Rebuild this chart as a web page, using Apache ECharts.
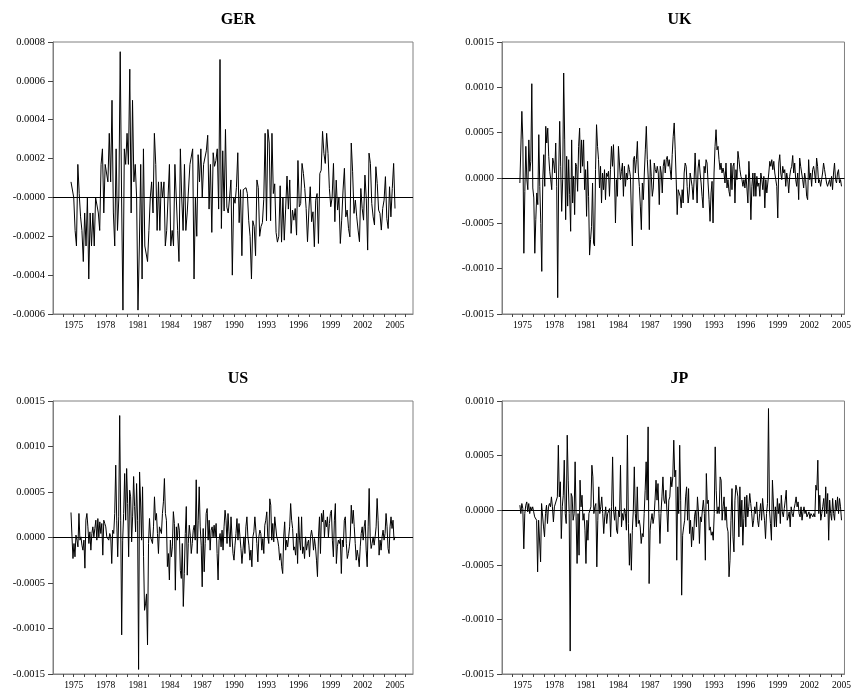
<!DOCTYPE html>
<html>
<head>
<meta charset="utf-8">
<script src="https://cdn.jsdelivr.net/npm/echarts@6/dist/echarts.min.js"></script>
<style>html,body{margin:0;padding:0;background:#fff}#c{width:854px;height:697px}</style>
</head>
<body>
<div id="c"></div>
<script>
// values are in units of 1e-4
const SCALE = 1e-4;
const startYear = 1974.75;
const endYear = 2005.0;
const xLabelYears = [1975, 1978, 1981, 1984, 1987, 1990, 1993, 1996, 1999, 2002, 2005];
const xTickYears = [1974,1975,1976,1977,1978,1979,1980,1981,1982,1983,1984,1985,1986,1987,1988,1989,1990,1991,1992,1993,1994,1995,1996,1997,1998,1999,2000,2001,2002,2003,2004,2005,2006];
const titles = ['GER', 'UK', 'US', 'JP'];

const ger = [0.8,0.8,0,-1.7,-2.5,1.7,0.2,-1.0,-1.7,-3.3,-0.8,-2.5,0,-4.2,-0.8,-2.5,-0.8,-2.5,0,0,-0.8,-1.7,1.7,2.5,-0.8,1.7,1.7,0.8,3.3,0.8,5.0,-0.8,-2.5,2.5,-1.7,0,7.5,0,-5.8,2.5,1.7,3.3,1.7,6.6,-0.8,5.0,0.8,1.7,0,-5.8,-2.5,1.7,-4.2,2.5,-2.5,-2.5,-3.3,-1.7,0,0.8,-0.8,3.3,1.7,-1.7,0.8,-1.7,0.8,0,0.8,-2.5,-1.7,0,1.7,-2.5,-1.7,-2.5,1.7,
 0,-1.7,-3.3,2.5,0,-1.7,1.7,-1.7,-0.8,-0.8,1.7,1.7,2.5,-4.2,0,-2.0,2.2,0.8,2.5,0,1.7,1.6,2.4,3.2,-0.6,1.7,-1.8,2.3,1.6,1.9,2.5,-0.6,7.1,-1.6,2.4,-0.7,3.5,-0.5,-0.8,0,0.9,-4.0,0,-0.3,0.5,2.3,-1.3,0.4,-3.0,0.4,0.5,0.5,0.2,-1.2,-2.0,-4.2,-1.2,-1.5,-3.0,0.9,0.5,-2.0,-1.5,-1.3,-0.1,3.3,-1.2,3.5,2.8,-1.2,3.3,0.2,0.7,-1.8,-2.3,-2.0,0.6,-2.3,0,-2.2,-0.6,1.1,-0.6,0.9,
 -1.85,-0.65,-1.17,-0.57,-1.94,1.9,-0.48,-0.31,1.75,1.23,0.46,-0.57,-2.28,-0.65,0.55,-1.25,-0.74,-2.54,-0.14,0.2,-2.37,1.23,1.4,3.4,2.26,1.75,3.3,2.26,0.46,-0.48,0,1.75,-1.25,0.89,-0.65,0,-2.37,-1.17,0.38,1.5,-1.0,-0.65,-1.6,-2.03,2.8,1.32,-0.82,-0.14,-1.0,-1.68,-2.28,0.46,-0.57,-1.17,1.15,-0.05,-2.71,2.28,1.75,-0.31,-1.0,-1.42,1.58,0.72,-0.65,-0.82,-1.68,-0.57,-0.14,1.07,-1.08,-1.6,0.55,-1.0,0.46,1.75,-0.57];

const uk = [-0.55,-0.75,7.35,4.2,-8.3,-1.47,3.49,-0.18,-1.29,4.2,0.74,1.84,10.4,-1.1,-2.2,-8.3,-4.6,-1.65,-2.94,4.78,-0.92,-5.0,-10.3,-0.18,2.57,-0.92,5.7,3.86,5.5,2.39,0.74,-0.18,-1.29,2.2,1.65,0.55,3.86,-0.92,-13.2,0.55,6.25,1.29,-3.68,-0.18,11.58,4.2,-4.6,2.39,-3.1,2.02,-1.84,-5.88,4.2,-2.76,0.18,-4.04,1.65,1.29,-1.47,3.49,5.5,0.55,4.2,1.29,4.2,-1.29,0.92,-4.23,1.84,-2.02,-8.5,-6.8,-5.33,-0.55,-7.17,-7.5,0.92,5.88,3.49,2.02,-1.1,1.29,-2.76,0.55,-1.29,0.92,-2.39,0.55,0.18,
 0.74,-2.02,0.92,3.49,1.29,3.68,0.55,-4.96,-0.18,-2.02,3.49,3.68,-0.18,0.74,1.65,-2.02,1.29,-0.92,0.55,-0.18,1.47,0.92,0.18,-3.86,-7.5,2.02,2.39,0.55,2.02,4.04,0.55,-0.92,-3.1,-5.7,-0.55,-2.39,0.55,3.1,5.7,2.02,-0.18,-5.7,2.02,0.18,-2.02,-1.1,1.65,0.92,0.55,1.29,0.55,-2.94,1.29,0.55,-1.65,1.29,2.02,0.55,2.02,2.39,1.29,2.02,0.92,-0.18,2.57,4.6,6.07,3.1,-0.18,-4.04,-1.29,-1.65,-2.02,-3.3,-1.29,-2.76,0.55,1.65,1.29,-0.92,-2.76,-1.65,0.55,0.74,-0.92,-2.39,-0.18,2.76,-0.18,-2.76,1.1,2.02,0.55,-0.55,-2.02,-3.3,1.29,0.55,2.02,1.65,-0.55,-2.39,-4.78,-1.65,-0.37,-4.96,0.55,3.49,5.33,3.1,3.49,2.02,0.92,1.65,0.55,
 1.1,0.55,-0.55,1.65,-1.1,-0.18,-1.47,-2.02,1.65,-1.29,1.29,1.65,-2.76,0.92,-0.18,2.94,2.02,0.92,0.18,-0.18,-0.92,-0.18,-1.1,0.37,-1.1,-2.76,1.84,-0.55,-4.6,-0.92,0.55,-2.02,0.55,-2.02,0.18,-0.92,-0.55,-2.02,0.55,-0.18,-1.29,0.18,-3.3,-0.18,-1.65,-0.55,0.55,1.84,1.29,2.02,0.92,1.84,0.55,-0.18,-0.92,-4.41,1.65,2.57,0.55,-0.18,1.29,0.55,0.92,-0.92,0.55,-0.18,-1.65,0.18,0.92,1.29,2.48,0.55,1.65,-0.18,-0.92,0.55,-2.39,2.2,1.29,0.55,-0.18,-1.1,0.55,-0.18,-2.02,-2.39,2.02,-0.18,0.55,-0.92,0.92,1.29,0.55,-0.55,2.2,1.29,-0.55,-0.18,-0.92,-0.18,0.55,1.65,0.92,0.18,-0.55,-0.92,-1.1,-0.18,-0.92,0.18,-1.29,0.55,1.65,-0.18,-0.55,0.55,0.92,-0.55,-0.18,-0.92];

const us = [2.75,0.07,-2.31,-0.66,-2.12,0.26,-0.29,-1.03,2.64,-0.29,0.07,-0.84,-1.39,-0.29,-3.37,1.91,2.64,1.17,-0.66,0.62,-1.39,0.44,1.17,0.07,0.99,1.9,-0.29,2.08,0.07,1.72,0.44,1.54,-1.94,1.9,1.54,1.17,0.07,0.26,-0.29,0.44,0.07,-2.86,0.81,0.44,2.64,7.95,1.9,-2.12,2.27,13.4,1.9,-10.7,-0.29,2.64,7.03,1.9,7.58,3.73,-2.12,5.2,4.47,-0.48,2.27,6.7,3.4,0.62,5.93,1.9,-14.5,7.2,3.9,-0.29,5.57,-2.12,-8.0,-7.3,-6.2,-11.8,-0.66,2.09,0.07,0.26,-0.66,1.17,4.47,1.9,2.64,0.44,-1.76,1.17,1.17,0.44,2.64,3.92,6.48,2.64,1.9,-3.2,-1.76,-4.67,-0.29,-2.12,-1.03,2.84,1.54,-5.79,1.17,-0.29,1.54,0.81,
 -3.63,-4.5,-0.66,-7.58,-3.96,0.44,3.4,-4.14,-0.66,1.35,0.26,-1.76,-0.66,0.81,1.35,-0.29,6.34,-1.76,1.9,5.57,1.17,-0.84,-5.42,0.99,-3.77,-0.66,2.64,3.18,-0.29,1.9,-1.39,0.81,1.17,0.07,1.35,0.07,1.54,-1.76,-4.67,-0.29,0.44,-1.03,0.81,-1.39,1.17,3.0,1.9,-0.66,2.64,0.62,-1.03,2.27,0.07,-1.76,-2.49,-0.84,0.44,2.08,-0.29,1.54,0.07,-1.21,-2.86,-1.39,0.07,-1.76,1.17,2.27,0.07,-0.84,-2.49,-1.39,-3.22,0.07,0.62,2.27,0.81,-0.66,-2.68,0.07,0.81,0.44,-1.39,-0.11,-1.76,1.35,1.9,2.82,0.07,-0.66,4.25,3.55,-0.29,1.54,-0.48,2.27,2.45,0.07,-0.29,-1.03,-2.49,-1.76,-3.22,-3.96,0.07,1.72,-1.39,-0.29,-1.03,0.07,1.17,3.73,1.9,0.99,-1.39,
 -1.03,-1.94,0.44,-2.86,2.27,-0.29,-1.39,2.27,-1.76,-1.03,-2.31,0.07,-1.39,-0.66,-0.29,-2.12,0.07,0.81,0.07,-1.39,-0.11,-1.03,-2.49,-4.3,0.07,2.27,-1.76,2.64,1.72,3.0,0.07,1.9,1.17,2.27,0.07,1.54,2.64,3.0,-0.29,-2.12,1.9,3.73,-2.86,-1.03,-0.29,-0.66,-0.11,-3.96,-0.29,-1.03,1.9,2.27,-0.66,-2.31,-1.76,-1.03,0.07,3.55,1.54,3.0,1.17,-0.66,-2.49,-1.39,-2.12,-3.22,-1.03,0.44,1.17,-0.29,1.17,1.9,-1.39,-3.22,1.17,5.39,0.07,-1.21,-0.66,0.07,-0.84,0.07,1.17,4.29,1.9,-1.94,-0.29,-1.39,0.07,0.81,-0.29,0.44,2.64,1.17,-1.21,-1.76,1.17,2.27,0.99,1.9,-0.29,0.07];

const jp = [0.46,-0.31,0.61,0.15,-3.54,-0.31,0.46,0.76,-0.15,0.61,-0.31,0.31,0,0.31,-0.15,-0.61,-0.76,-0.92,-5.65,-0.92,-1.07,-4.73,0.61,0.46,-1.53,-2.44,-0.31,0.46,-1.22,0.31,0.61,0.31,1.22,0.31,-1.07,0.31,0.15,0.46,1.22,5.95,1.22,2.6,-2.6,0.31,1.37,4.58,-0.31,-1.22,6.87,2.75,-0.31,-12.9,1.53,1.22,-0.92,-0.31,4.43,-0.61,-4.88,-0.31,-4.12,2.75,0.31,1.37,-0.92,-0.31,-1.83,-4.88,-0.92,-2.75,-0.31,-0.15,0.31,4.12,3.05,-0.31,0.31,0.61,-5.19,-0.92,2.14,-0.31,0.31,1.22,-0.31,-2.14,-0.61,0.31,-1.22,-0.31,
 -0.31,0.15,-2.44,0.31,4.88,0,-0.92,0.31,-1.83,-2.14,0,-0.61,4.12,-1.53,-0.31,-0.92,0.15,-0.31,-1.83,6.87,-1.22,-5.04,-2.14,-5.5,-1.83,0,3.97,-0.31,-1.53,2.14,-1.22,-0.92,-1.53,-3.05,-2.14,-2.44,-0.31,1.83,4.43,0.92,7.63,-6.72,-1.83,-0.92,-0.31,-1.22,-0.61,0.92,2.75,0.92,2.44,-0.31,-3.05,-0.31,1.22,3.05,0.92,0.61,1.83,0,-1.98,0.92,1.22,3.05,2.14,3.05,6.41,3.05,3.66,-4.58,2.14,-0.31,5.95,0.92,-7.78,-2.29,-1.53,-0.92,1.22,2.14,-0.92,1.98,-2.14,-0.92,-3.36,-1.53,-2.75,-0.61,0,-1.53,1.22,-0.15,-3.05,-0.61,-1.07,0,0.92,-0.31,-4.58,3.36,0.61,0.92,-1.83,-1.53,-2.29,-1.98,-2.75,-0.31,5.8,1.83,-0.31,0.31,-0.31,3.05,2.75,-0.92,0.31,
 1.22,-0.92,0.31,-1.53,-1.98,-6.1,-4.58,-0.92,1.98,-2.44,-3.82,0.92,2.29,1.83,1.22,-2.44,2.14,-1.53,0.92,-3.21,-0.76,1.22,-1.53,1.37,-0.61,0.31,1.53,0.61,-0.31,-1.53,-0.92,0.31,-0.31,0.76,-0.92,-1.53,-0.31,0.61,-0.92,1.07,0,-0.92,-2.6,-0.31,0.61,9.31,0,-1.22,-2.75,2.75,2.9,-1.53,0.31,-1.53,1.07,-0.31,0.61,-1.22,1.37,-0.15,-0.61,0.15,0.92,1.83,-0.92,-0.61,-0.15,-1.53,0.31,-0.31,-0.61,0.15,0.61,1.22,0.31,0.76,-0.31,-0.61,0.31,-0.92,-0.15,0.31,-0.31,0,-0.61,-0.46,-0.15,-0.76,-0.31,-0.46,-0.61,-0.31,-0.61,2.29,1.83,4.58,-0.31,1.37,-0.92,-0.31,0.31,1.07,-0.61,2.14,-0.31,1.53,-2.75,0.92,-0.31,-0.92,1.07,-0.31,-0.92,0.92,0,1.22,-0.31,1.07,0.31,-0.92];

const seriesValues = [ger, uk, us, jp];
const yMin = [-6, -15, -15, -15];
const yMax = [8, 15, 15, 10];
const yStep = [2, 5, 5, 5];

function toPairs(vals) {
  const n = vals.length;
  return vals.map((v, i) => [startYear + i * (endYear - startYear) / (n - 1), v]);
}

const FONT = 'Liberation Serif';
const grids = [
  {left: 53, top: 42, width: 360, height: 272},
  {left: 502, top: 42, width: 345, height: 272},
  {left: 53, top: 401, width: 360, height: 273},
  {left: 502, top: 401, width: 345, height: 273}
];
const xMin = 1973.07;
const xMaxLeft = 2006.68, xMaxRight = 2005.28;

const option = {
  animation: false,
  backgroundColor: '#fff',
  title: grids.map((g, k) => ({
    text: titles[k], left: g.left + g.width / 2, top: k < 2 ? 7 : 366, textAlign: 'center',
    textStyle: {fontFamily: FONT, fontWeight: 'bold', fontSize: 16, color: '#000'}
  })),
  grid: grids.map(g => Object.assign({show: true, borderColor: '#808080', borderWidth: 1, backgroundColor: 'transparent'}, g)),
  xAxis: grids.map((g, k) => ({
    type: 'value', gridIndex: k, min: xMin, max: (k % 2 === 0) ? xMaxLeft : xMaxRight,
    axisLine: {show: true, onZero: false, lineStyle: {color: '#808080', width: 1}},
    axisTick: {show: true, customValues: xTickYears, length: 3, lineStyle: {color: '#444'}},
    axisLabel: {show: true, customValues: xLabelYears, formatter: v => String(Math.round(v)), fontFamily: FONT, fontSize: 9.5, color: '#000', margin: 6},
    splitLine: {show: false}
  })),
  yAxis: grids.map((g, k) => ({
    type: 'value', gridIndex: k, min: yMin[k], max: yMax[k], interval: yStep[k],
    axisLine: {show: true, lineStyle: {color: '#808080', width: 1}},
    axisTick: {show: true, length: 5, lineStyle: {color: '#444'}},
    axisLabel: {
      fontFamily: FONT, fontSize: 10.5, color: '#000', margin: 8,
      formatter: v => (k === 0 && Math.abs(v) < 1e-9) ? '-0.0000' : (v * SCALE).toFixed(4)
    },
    splitLine: {show: false}
  })),
  series: seriesValues.map((vals, k) => ({
    type: 'line', xAxisIndex: k, yAxisIndex: k, data: toPairs(vals),
    showSymbol: false, symbol: 'none', lineStyle: {color: '#000', width: 1}, z: 3,
    markLine: {silent: true, symbol: 'none', label: {show: false}, lineStyle: {color: '#000', width: 1, type: 'solid'}, data: [{yAxis: 0}]}
  }))
};

echarts.init(document.getElementById('c'), null, {renderer: 'canvas'}).setOption(option);
</script>
</body>
</html>
